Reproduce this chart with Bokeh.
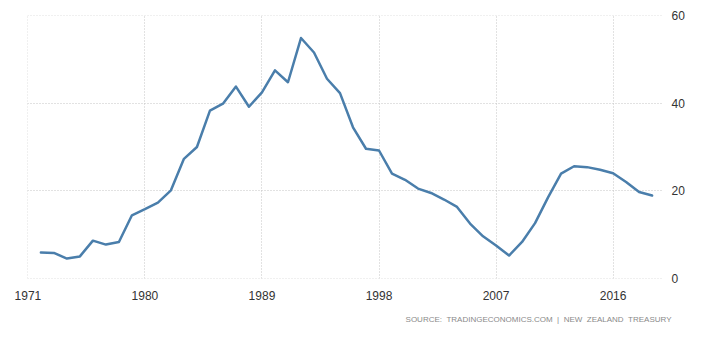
from bokeh.plotting import figure
from bokeh.models import FixedTicker, Range1d, Title
from bokeh.embed import file_html
from bokeh.resources import INLINE

years = list(range(1972, 2020))
values = [5.9, 5.8, 4.5, 5.0, 8.6, 7.7, 8.3, 14.4, 15.8, 17.3, 20.1, 27.3,
          30.0, 38.3, 39.9, 43.8, 39.2, 42.5, 47.5, 44.8, 54.9, 51.6, 45.6, 42.3,
          34.5, 29.6, 29.2, 23.9, 22.5, 20.5, 19.5, 18.0, 16.3, 12.5, 9.6, 7.5,
          5.2, 8.3, 12.6, 18.5, 23.9, 25.6, 25.4, 24.8, 24.0, 22.0, 19.7, 18.9]
x_ticks = [1971, 1980, 1989, 1998, 2007, 2016]
y_ticks = [0, 20, 40, 60]
nb = "\u00a0"
source_text = ("SOURCE:" + nb * 2 + "TRADINGECONOMICS.COM" + nb * 2 + "|" + nb * 2 +
               "NEW" + nb * 2 + "ZEALAND" + nb * 2 + "TREASURY")

p = figure(width=708, height=337, output_backend="svg", toolbar_location=None,
           x_range=Range1d(1970.97, 2019.8), y_range=Range1d(-0.05, 60.05),
           y_axis_location="right",
           min_border_left=27, min_border_right=46, min_border_top=15,
           min_border_bottom=59)
p.outline_line_color = None
p.background_fill_color = "white"
p.border_fill_color = "white"

p.line(years, values, line_color="#4a7eab", line_width=2.5, line_join="round",
       line_cap="round")

for ax in (p.xaxis, p.yaxis):
    ax.axis_line_color = None
    ax.major_tick_line_color = None
    ax.minor_tick_line_color = None
    ax.major_label_text_font = "Liberation Sans"
    ax.major_label_text_font_size = "12px"
    ax.major_label_text_color = "#333333"
p.xaxis.ticker = FixedTicker(ticks=x_ticks)
p.yaxis.ticker = FixedTicker(ticks=y_ticks)
p.xaxis.major_label_standoff = 6
p.yaxis.major_label_standoff = 3

for g in (p.xgrid, p.ygrid):
    g.grid_line_color = "#c4c4c4"
    g.grid_line_dash = "1 2"
    g.grid_line_width = 1
p.xgrid.ticker = FixedTicker(ticks=x_ticks)
p.ygrid.ticker = FixedTicker(ticks=y_ticks)

src = Title(text=source_text, align="right", text_font="Liberation Sans",
            text_font_size="8px", text_color="#8a8a8a", text_font_style="normal",
            offset=-9, standoff=20)
p.add_layout(src, "below")

open("out.html", "w").write(file_html(p, INLINE))
